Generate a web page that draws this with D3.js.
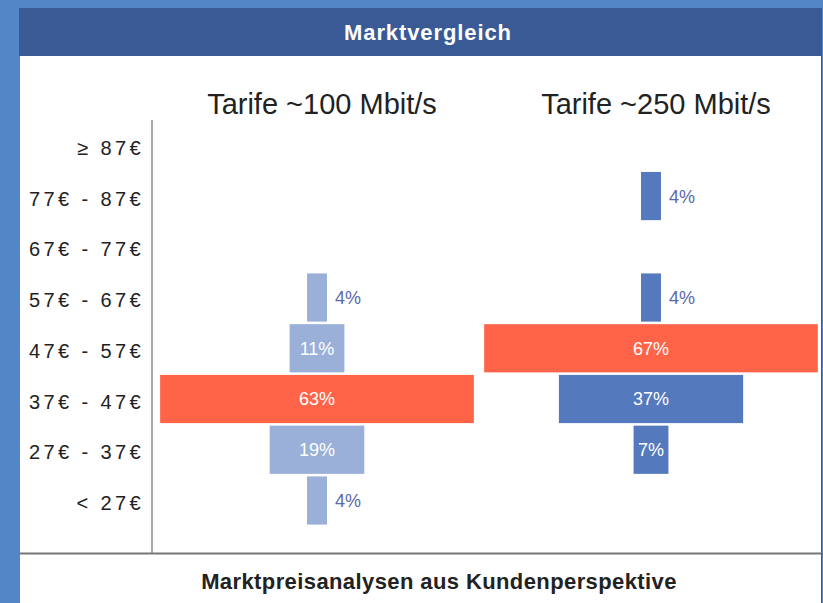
<!DOCTYPE html>
<html>
<head>
<meta charset="utf-8">
<script src="https://cdn.jsdelivr.net/npm/d3@7"></script>
<style>
  body { margin: 0; background: #fff; }
  svg { display: block; font-family: 'Liberation Sans', Arial, sans-serif; }
</style>
</head>
<body>
<svg id="chart" width="823" height="603"></svg>
<script>
const categories = ['≥ 87€', '77€ - 87€', '67€ - 77€', '57€ - 67€', '47€ - 57€', '37€ - 47€', '27€ - 37€', '< 27€'];
const seriesNames = ['Tarife ~100 Mbit/s', 'Tarife ~250 Mbit/s'];
const tarif100 = [0, 0, 0, 4, 11, 63, 19, 4];
const tarif250 = [0, 4, 0, 4, 67, 37, 7, 0];
const title = 'Marktvergleich';
const footer = 'Marktpreisanalysen aus Kundenperspektive';

const svg = d3.select('#chart');
const W = 823, H = 603;

// frame
svg.append('rect').attr('width', W).attr('height', H).attr('fill', '#5386c7');
svg.append('rect').attr('x', 20).attr('y', 8).attr('width', 802).attr('height', H - 8).attr('fill', '#fff');
svg.append('line').attr('x1', 821.5).attr('x2', 821.5).attr('y1', 8).attr('y2', H)
  .attr('stroke', '#3a5a96').attr('stroke-width', 1);
svg.append('rect').attr('x', 19).attr('y', 8).attr('width', 803).attr('height', 48).attr('fill', '#3a5a96');

svg.append('text')
  .attr('x', 428).attr('y', 39.5)
  .attr('text-anchor', 'middle')
  .style('font-size', '22px').style('font-weight', 'bold').style('letter-spacing', '0.9px')
  .attr('fill', '#fff')
  .text(title);

const yScale = d3.scaleBand().domain(categories).range([121.2, 524.6]).paddingInner(0.05);
const xScale = d3.scaleLinear().domain([0, 100]).range([0, 498]);

const axisX = 152;
svg.append('line').attr('x1', axisX).attr('x2', axisX).attr('y1', 120).attr('y2', 554)
  .attr('stroke', '#555').attr('stroke-width', 1);
svg.append('line').attr('x1', 20).attr('x2', 821).attr('y1', 553.5).attr('y2', 553.5)
  .attr('stroke', '#777').attr('stroke-width', 2);

const yAxis = svg.append('g')
  .attr('transform', `translate(${axisX},0)`)
  .call(d3.axisLeft(yScale).tickSize(0).tickPadding(8));
yAxis.select('.domain').remove();
yAxis.selectAll('text')
  .attr('dy', '0.48em')
  .style('font-size', '20px')
  .style('letter-spacing', '3.4px')
  .style('font-family', "'Liberation Sans', Arial, sans-serif")
  .attr('fill', '#222');

const columns = [
  { name: seriesNames[0], values: tarif100, center: 317, titleX: 322, color: '#9ab0d9' },
  { name: seriesNames[1], values: tarif250, center: 651, titleX: 656, color: '#5479bd' }
];
const highlight = '#ff6449';

columns.forEach(col => {
  svg.append('text')
    .attr('x', col.titleX).attr('y', 114)
    .attr('text-anchor', 'middle')
    .style('font-size', '29px')
    .attr('fill', '#222')
    .text(col.name);

  const maxV = d3.max(col.values);
  const rows = categories.map((c, i) => ({ cat: c, v: col.values[i] })).filter(d => d.v > 0);
  const g = svg.append('g');

  g.selectAll('rect')
    .data(rows)
    .enter()
    .append('rect')
    .attr('x', d => col.center - xScale(d.v) / 2)
    .attr('y', d => yScale(d.cat))
    .attr('width', d => xScale(d.v))
    .attr('height', yScale.bandwidth())
    .attr('fill', d => d.v === maxV ? highlight : col.color);

  g.selectAll('text')
    .data(rows)
    .enter()
    .append('text')
    .attr('x', d => d.v >= 7 ? col.center : col.center + xScale(d.v) / 2 + 8)
    .attr('y', d => yScale(d.cat) + yScale.bandwidth() / 2)
    .attr('dy', '0.36em')
    .attr('text-anchor', d => d.v >= 7 ? 'middle' : 'start')
    .style('font-size', '18px')
    .attr('fill', d => d.v >= 7 ? '#fff' : '#5b68aa')
    .text(d => d.v + '%');
});

svg.append('text')
  .attr('x', 439).attr('y', 589)
  .attr('text-anchor', 'middle')
  .style('font-size', '22px').style('font-weight', 'bold').style('letter-spacing', '0.4px')
  .attr('fill', '#222')
  .text(footer);
</script>
</body>
</html>
